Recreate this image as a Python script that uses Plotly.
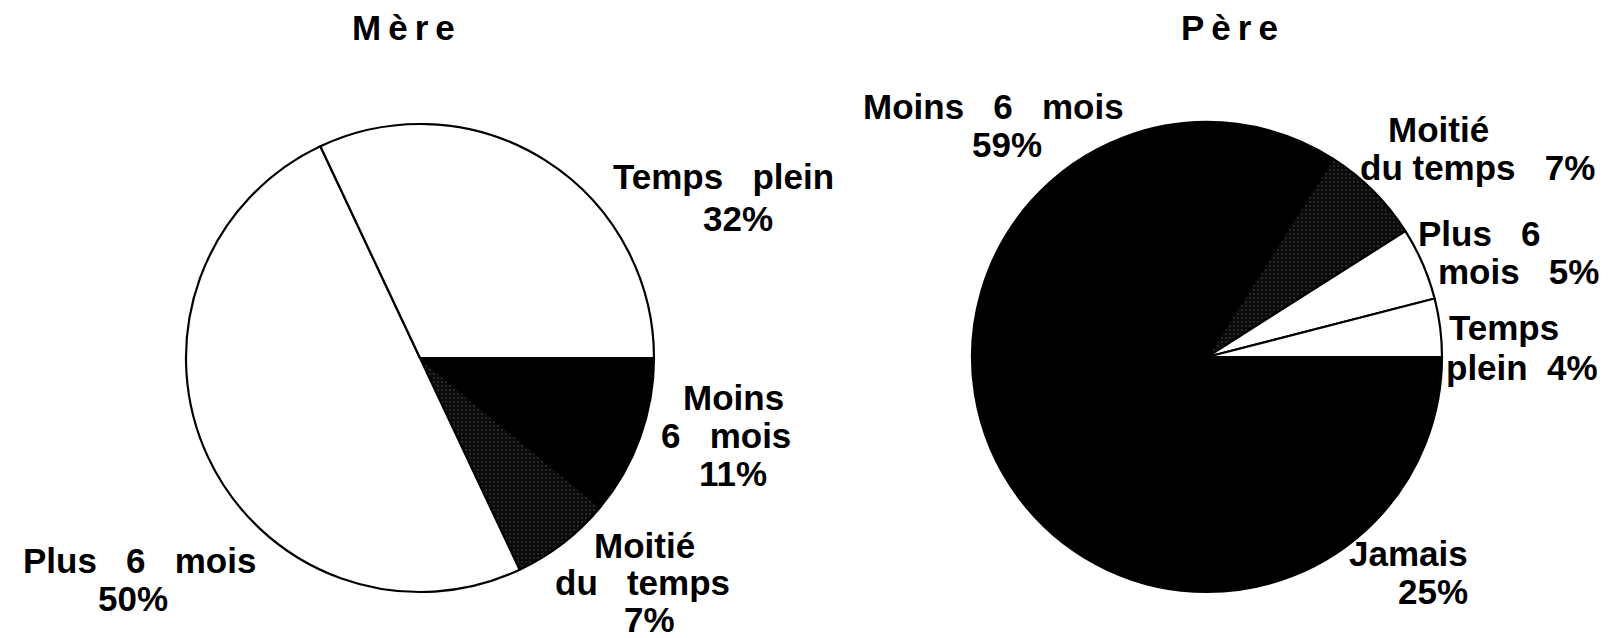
import plotly.graph_objects as go

W, H = 1624, 638

# ---- data (listed counterclockwise from 3 o'clock, as in the reference) ----
titles = ["Mère", "Père"]

mere_labels = ["Temps plein", "Plus 6 mois", "Moitié du temps", "Moins 6 mois"]
mere_values = [32, 50, 7, 11]
mere_colors = ["#ffffff", "#ffffff", "#111111", "#000000"]

pere_labels = ["Temps plein", "Plus 6 mois", "Moitié du temps", "Moins 6 mois", "Jamais"]
pere_values = [4, 5, 7, 59, 25]
pere_colors = ["#ffffff", "#ffffff", "#111111", "#000000", "#000000"]

# label line layouts: (line template, x centre px, cap-middle y px)
mere_text = [
    [("Temps   plein", 721, 174), ("{v}%", 736, 216)],
    [("Plus   6   mois", 137, 558), ("{v}%", 131, 596)],
    [("Moitié", 642, 543), ("du   temps", 640, 580), ("{v}%", 647, 617)],
    [("Moins", 731, 395), ("6   mois", 724, 433), ("{v}%", 731, 471)],
]
pere_text = [
    [("Temps", 1502, 325), ("plein  {v}%", 1520, 365)],
    [("Plus   6", 1477, 231), ("mois   {v}%", 1516, 269)],
    [("Moitié", 1436, 127), ("du temps   {v}%", 1475, 165)],
    [("Moins   6   mois", 992, 105), ("{v}%", 1005, 143)],
    [("Jamais", 1406, 551), ("{v}%", 1431, 589)],
]

FONT = "Liberation Sans, Arial, Helvetica, sans-serif"


def dom(cx, cy, r):
    return dict(x=[(cx - r) / W, (cx + r) / W], y=[1 - (cy + r) / H, 1 - (cy - r) / H])


def pattern_for(colors):
    shapes = ["." if c == "#111111" else "" for c in colors]
    return dict(shape=shapes, fgcolor="#5a5a5a", bgcolor="#0a0a0a", size=4, solidity=0.1, fillmode="replace")


def pie(labels, values, colors, cx, cy, r):
    # plotted clockwise from 3 o'clock in reverse order == counterclockwise in listed order
    return go.Pie(
        labels=labels[::-1], values=values[::-1], sort=False, direction="clockwise",
        rotation=90, textinfo="none", hoverinfo="label+percent", showlegend=False,
        marker=dict(colors=colors[::-1], line=dict(color="#000000", width=2.2),
                    pattern=pattern_for(colors[::-1])),
        domain=dom(cx, cy, r),
    )


fig = go.Figure()
fig.add_trace(pie(mere_labels, mere_values, mere_colors, 412, 350, 234))
fig.add_trace(pie(pere_labels, pere_values, pere_colors, 1199, 349, 235))

annotations = []
NB = "\u00a0"


def add_text(txt, x, y, size):
    annotations.append(dict(
        text="<b>" + txt + "</b>", x=x / W, y=1 - y / H,
        xref="paper", yref="paper", xanchor="center", yanchor="middle",
        showarrow=False, font=dict(family=FONT, size=size, color="#000000"),
    ))


DX = -6
for t, x in zip(titles, [401, 1227]):
    add_text("\u2009".join(list(t)), x + DX, 20, 35)

DY = -6
for lines, v in zip(mere_text, mere_values):
    for tmpl, x, y in lines:
        add_text(tmpl.format(v=v).replace(" ", NB), x + DX, y + DY, 35)
for lines, v in zip(pere_text, pere_values):
    for tmpl, x, y in lines:
        add_text(tmpl.format(v=v).replace(" ", NB), x + DX, y + DY, 35)

fig.update_layout(
    width=W, height=H, margin=dict(l=0, r=0, t=0, b=0),
    paper_bgcolor="#ffffff", plot_bgcolor="#ffffff",
    annotations=annotations,
)

fig.write_html("out.html")
